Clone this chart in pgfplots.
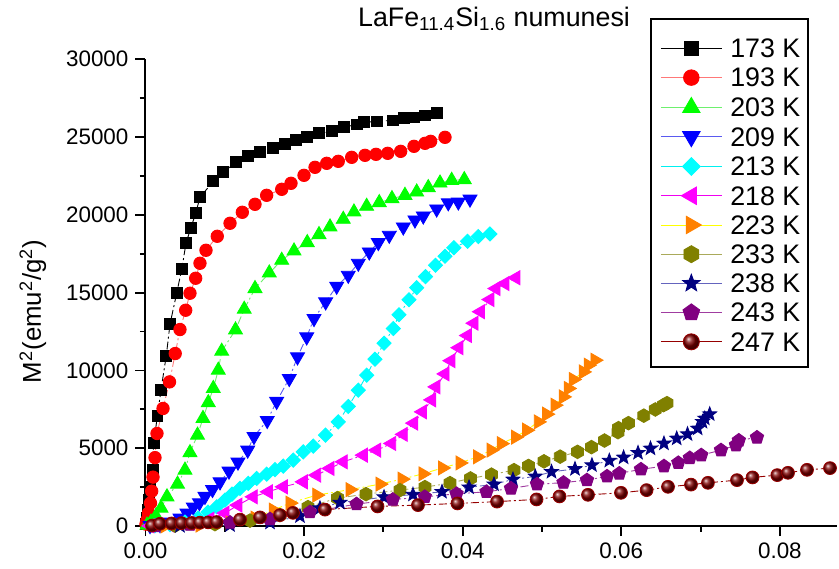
\documentclass[border=0pt]{standalone}
\usepackage{fontspec}
\setmainfont{Liberation Sans}
\usepackage{pgfplots}
\pgfplotsset{compat=1.18}
\usetikzlibrary{plotmarks}
\pgfdeclareplotmark{hexagon*}{%
  \pgfpathmoveto{\pgfpointpolar{90}{\pgfplotmarksize}}%
  \pgfpathlineto{\pgfpointpolar{150}{\pgfplotmarksize}}%
  \pgfpathlineto{\pgfpointpolar{210}{\pgfplotmarksize}}%
  \pgfpathlineto{\pgfpointpolar{270}{\pgfplotmarksize}}%
  \pgfpathlineto{\pgfpointpolar{330}{\pgfplotmarksize}}%
  \pgfpathlineto{\pgfpointpolar{30}{\pgfplotmarksize}}%
  \pgfpathclose\pgfusepathqfillstroke}
\pgfdeclareplotmark{fstar}{%
  \pgfpathmoveto{\pgfpointpolar{90}{\pgfplotmarksize}}%
  \pgfpathlineto{\pgfpointpolar{126}{0.42\pgfplotmarksize}}%
  \pgfpathlineto{\pgfpointpolar{162}{\pgfplotmarksize}}%
  \pgfpathlineto{\pgfpointpolar{198}{0.42\pgfplotmarksize}}%
  \pgfpathlineto{\pgfpointpolar{234}{\pgfplotmarksize}}%
  \pgfpathlineto{\pgfpointpolar{270}{0.42\pgfplotmarksize}}%
  \pgfpathlineto{\pgfpointpolar{306}{\pgfplotmarksize}}%
  \pgfpathlineto{\pgfpointpolar{342}{0.42\pgfplotmarksize}}%
  \pgfpathlineto{\pgfpointpolar{18}{\pgfplotmarksize}}%
  \pgfpathlineto{\pgfpointpolar{54}{0.42\pgfplotmarksize}}%
  \pgfpathclose\pgfusepathqfillstroke}
\definecolor{cRed}{RGB}{255,0,0}\definecolor{lRed}{RGB}{255,120,120}
\definecolor{cGreen}{RGB}{0,255,0}\definecolor{lGreen}{RGB}{110,240,110}
\definecolor{cBlue}{RGB}{0,0,255}\definecolor{lBlue}{RGB}{90,90,240}
\definecolor{cCyan}{RGB}{0,255,255}\definecolor{lCyan}{RGB}{0,240,240}
\definecolor{cMag}{RGB}{255,0,255}\definecolor{lMag}{RGB}{240,0,240}
\definecolor{cOrange}{RGB}{255,128,0}\definecolor{lYellow}{RGB}{255,255,0}
\definecolor{cOlive}{RGB}{128,128,0}\definecolor{lOlive}{RGB}{170,170,90}
\definecolor{cNavy}{RGB}{0,0,128}\definecolor{lNavy}{RGB}{100,100,190}
\definecolor{cPurple}{RGB}{128,0,128}\definecolor{lPurple}{RGB}{160,60,160}
\definecolor{cMaroon}{RGB}{128,0,0}\definecolor{lMaroon}{RGB}{150,0,0}
\begin{document}
\begin{tikzpicture}
\begin{axis}[
  scale only axis, width=345.75pt, height=233.5pt,
  xmin=0, xmax=0.0872, ymin=0, ymax=30000,
  axis x line*=bottom, axis y line*=left,
  xtick={0,0.02,0.04,0.06,0.08}, minor xtick={0.01,0.03,0.05,0.07},
  ytick={0,5000,...,30000}, minor ytick={2500,7500,...,27500},
  tick align=outside, major tick length=5pt, minor tick length=2.8pt,
  every tick/.style={black, line width=0.9pt},
  axis line style={line width=1pt},
  scaled x ticks=false, scaled y ticks=false,
  xticklabel style={/pgf/number format/.cd, fixed, fixed zerofill, precision=2},
  yticklabel style={/pgf/number format/1000 sep={}},
  /pgf/number format/assume math mode=true,
  tick label style={font=\fontsize{11.2}{13}\selectfont},
  ylabel={M\textsuperscript{2}(emu\textsuperscript{2}/g\textsuperscript{2})},
  ylabel style={at={(rel axis cs:-0.163,0.46)}, anchor=center, font=\fontsize{12.9}{14}\selectfont},
  title={LaFe\textsubscript{11.4}Si\textsubscript{1.6} numunesi},
  title style={at={(rel axis cs:0.504,1.045)}, anchor=base, font=\fontsize{13.4}{15}\selectfont},
  clip=false,
  every axis plot/.append style={line width=0.45pt, dash pattern=on 4pt off 1.5pt on 1pt off 1.5pt},
  legend style={at={(rel axis cs:0.744,1.0438)}, anchor=north west, draw=none, fill=none,
    inner sep=0pt, font=\fontsize{13.4}{14}\selectfont, row sep=5.25pt,
    nodes={inner ysep=0pt, inner xsep=4pt, text depth=0pt}},
  legend cell align=left,
  legend image code/.code={\draw[mark repeat=2,mark phase=2,#1,solid,every mark/.append style={scale=1.25}] plot coordinates {(0pt,0pt)(15.25pt,0pt)(30.5pt,0pt)};},
]
\addplot[color=black, mark=square*, mark size=2.7pt, mark options={solid, fill=black, draw=black}] coordinates {
(0.00006,128)(0.00019,514)(0.00032,1027)(0.00044,1669)(0.00063,2504)(0.00091,3627)(0.00103,5329)(0.0015,7062)(0.00195,8731)(0.00262,10946)(0.00309,12968)(0.00393,14959)(0.00457,16499)(0.00511,18169)(0.0057,19132)(0.00633,20095)(0.00687,21122)(0.00855,22149)(0.00981,22727)(0.01138,23369)(0.01289,23754)(0.01444,24011)(0.01604,24268)(0.01759,24524)(0.01898,24781)(0.02037,24974)(0.02188,25231)(0.02348,25359)(0.02503,25616)(0.02663,25808)(0.02755,25937)(0.02915,26001)(0.03121,26065)(0.0326,26194)(0.03386,26258)(0.03525,26386)(0.03672,26515)};
\addplot[color=lRed, mark=*, mark size=3.1pt, mark options={solid, fill=cRed, draw=cRed}] coordinates {
(0.00006,128)(0.00019,385)(0.00038,835)(0.00063,1477)(0.00078,2247)(0.00095,3146)(0.0012,4398)(0.00145,5951)(0.00221,7556)(0.00303,9264)(0.00375,11087)(0.00435,12628)(0.00507,13867)(0.00561,14959)(0.00633,15922)(0.00687,16885)(0.00763,17719)(0.00905,18618)(0.01066,19453)(0.01221,20159)(0.01381,20672)(0.01528,21250)(0.01718,21636)(0.01835,22021)(0.01999,22534)(0.02138,23048)(0.02285,23305)(0.02431,23433)(0.026,23690)(0.02768,23818)(0.02907,23882)(0.03054,23947)(0.03218,24075)(0.03386,24396)(0.03525,24589)(0.03596,24717)(0.03777,24974)};
\addplot[color=lGreen, mark=triangle*, mark size=4pt, mark options={solid, fill=cGreen, draw=cGreen}] coordinates {
(0.00019,64)(0.00069,257)(0.00132,642)(0.00196,1156)(0.00271,1881)(0.00404,2696)(0.00498,3595)(0.00561,4719)(0.00656,5842)(0.00725,6914)(0.00792,7929)(0.00855,8840)(0.00918,10015)(0.00961,11235)(0.01135,12602)(0.01245,13931)(0.01381,15260)(0.01561,16262)(0.01718,17077)(0.01873,17674)(0.0204,18213)(0.02188,18727)(0.02327,19215)(0.02494,19709)(0.02629,20178)(0.02789,20544)(0.02948,20782)(0.03108,21038)(0.03272,21250)(0.0342,21462)(0.03566,21745)(0.03714,22040)(0.03861,22213)(0.0402,22258)};
\addplot[color=lBlue, mark=triangle*, mark size=4pt, mark options={solid, rotate=180, fill=cBlue, draw=cBlue}] coordinates {
(0.00057,32)(0.00183,96)(0.00309,257)(0.00435,514)(0.00523,835)(0.00603,1220)(0.0068,1500)(0.0075,1905)(0.00845,2350)(0.0094,2841)(0.01053,3531)(0.01166,4109)(0.01289,4879)(0.01368,5759)(0.01535,6786)(0.01654,8012)(0.01813,9482)(0.01917,10869)(0.02033,12153)(0.02125,13334)(0.02272,14400)(0.02411,15408)(0.02557,16114)(0.02684,16885)(0.02822,17610)(0.02936,18213)(0.03074,18682)(0.03251,19215)(0.03398,19664)(0.03503,19921)(0.03672,20371)(0.03818,20769)(0.03945,20820)(0.04092,21006)};
\addplot[color=lCyan, mark=square*, mark size=2.5pt, mark options={solid, rotate=45, fill=cCyan, draw=cCyan}] coordinates {
(0.0012,32)(0.00309,96)(0.00498,257)(0.00662,514)(0.00788,899)(0.00898,1239)(0.01003,1669)(0.0109,2054)(0.01192,2420)(0.01296,2741)(0.01402,3062)(0.01528,3338)(0.01633,3627)(0.01738,3852)(0.01864,4237)(0.0199,4770)(0.02116,5136)(0.0227,5842)(0.02431,6696)(0.02557,7685)(0.02684,8731)(0.02789,9694)(0.02894,10721)(0.03008,11749)(0.03125,12692)(0.03197,13578)(0.03323,14541)(0.0342,15312)(0.03531,16031)(0.03657,16756)(0.03777,17334)(0.03888,17880)(0.04061,18297)(0.04197,18599)(0.04344,18766)};
\addplot[color=lMag, mark=triangle*, mark size=4pt, mark options={solid, rotate=90, fill=cMag, draw=cMag}] coordinates {
(0.00057,13)(0.00309,64)(0.00561,193)(0.00813,449)(0.01003,835)(0.01166,1348)(0.01359,1881)(0.01549,2202)(0.01738,2523)(0.0199,2844)(0.02159,3274)(0.02327,3704)(0.02494,4128)(0.02747,4558)(0.02915,4879)(0.03105,5309)(0.03251,5894)(0.03382,6613)(0.03493,7338)(0.03609,8108)(0.03663,8943)(0.03777,9778)(0.03852,10625)(0.03953,11460)(0.04061,12243)(0.04143,13033)(0.04224,13771)(0.04344,14554)(0.0442,15260)(0.04533,15581)(0.0467,15954)};
\addplot[color=lYellow, mark=triangle*, mark size=4pt, mark options={solid, rotate=-90, fill=cOrange, draw=cOrange}] coordinates {
(0.00246,13)(0.00687,64)(0.01066,193)(0.01381,514)(0.01612,1027)(0.01822,1477)(0.02159,1990)(0.02579,2343)(0.02957,2696)(0.03235,3017)(0.03499,3358)(0.03745,3736)(0.03966,4057)(0.04187,4449)(0.04357,4879)(0.04487,5297)(0.04666,5714)(0.04807,6163)(0.04953,6696)(0.05059,7190)(0.05164,7768)(0.05269,8301)(0.05332,8840)(0.05395,9418)(0.05521,9906)(0.05584,10336)(0.05668,10657)};
\addplot[color=lOlive, mark=hexagon*, mark size=3.4pt, mark options={solid, fill=cOlive, draw=cOlive}] coordinates {
(0.00372,32)(0.00876,128)(0.01318,353)(0.01696,706)(0.02049,1220)(0.02421,1798)(0.02781,2054)(0.03209,2311)(0.03524,2504)(0.0384,2761)(0.04098,3062)(0.04363,3306)(0.04647,3595)(0.0483,3865)(0.05025,4160)(0.05229,4462)(0.05448,4770)(0.05624,5072)(0.05788,5496)(0.05958,6035)(0.05965,6292)(0.0609,6613)(0.06284,7094)(0.06429,7492)(0.06532,7768)(0.06576,7897)};
\addplot[color=lNavy, mark=fstar, mark size=3.6pt, mark options={solid, fill=cNavy, draw=cNavy}] coordinates {
(0.00435,13)(0.01066,64)(0.0157,225)(0.01948,642)(0.022,1156)(0.02453,1509)(0.03008,1862)(0.03373,2022)(0.03739,2202)(0.0408,2491)(0.04395,2684)(0.04634,2998)(0.04915,3191)(0.0512,3486)(0.05416,3672)(0.0563,3916)(0.05849,4205)(0.06029,4411)(0.06211,4706)(0.06368,4988)(0.06538,5309)(0.06699,5630)(0.06835,5906)(0.06963,6272)(0.07024,6696)(0.07053,6914)(0.07115,7190)};
\addplot[color=lPurple, mark=pentagon*, mark size=3.5pt, mark options={solid, fill=cPurple, draw=cPurple}] coordinates {
(0.0012,13)(0.00561,96)(0.01066,225)(0.0157,449)(0.02074,899)(0.02661,1412)(0.03119,1701)(0.03522,1881)(0.03922,2074)(0.043,2202)(0.04609,2420)(0.04937,2684)(0.05271,2793)(0.05567,2953)(0.0582,3197)(0.05975,3383)(0.06248,3647)(0.06538,3852)(0.06719,4064)(0.06864,4378)(0.07008,4558)(0.07257,4879)(0.07446,5200)(0.07482,5502)(0.07711,5695)};
\addplot[color=lMaroon, mark=ball, mark size=3.2pt, mark options={solid, ball color=cMaroon}] coordinates {
(0.00082,32)(0.00183,150)(0.0033,170)(0.00456,190)(0.00582,200)(0.00687,220)(0.00791,240)(0.00897,260)(0.01192,417)(0.01444,560)(0.01696,706)(0.01860,850)(0.02263,1059)(0.02926,1265)(0.03436,1348)(0.03934,1457)(0.04433,1573)(0.04931,1714)(0.05221,1907)(0.0558,2009)(0.05996,2138)(0.06319,2311)(0.06589,2523)(0.06879,2664)(0.07093,2780)(0.07459,2953)(0.07655,3127)(0.07967,3274)(0.08102,3422)(0.08342,3614)(0.08632,3724)};
\legend{173 K,193 K,203 K,209 K,213 K,218 K,223 K,233 K,238 K,243 K,247 K}
\draw[line width=0.6pt] (rel axis cs:0.731,1.0857) rectangle (rel axis cs:0.958,0.3405);
\path (rel axis cs:-0.2104,1.1049) rectangle (rel axis cs:1.0029,-0.0899);
\end{axis}
\end{tikzpicture}
\end{document}
